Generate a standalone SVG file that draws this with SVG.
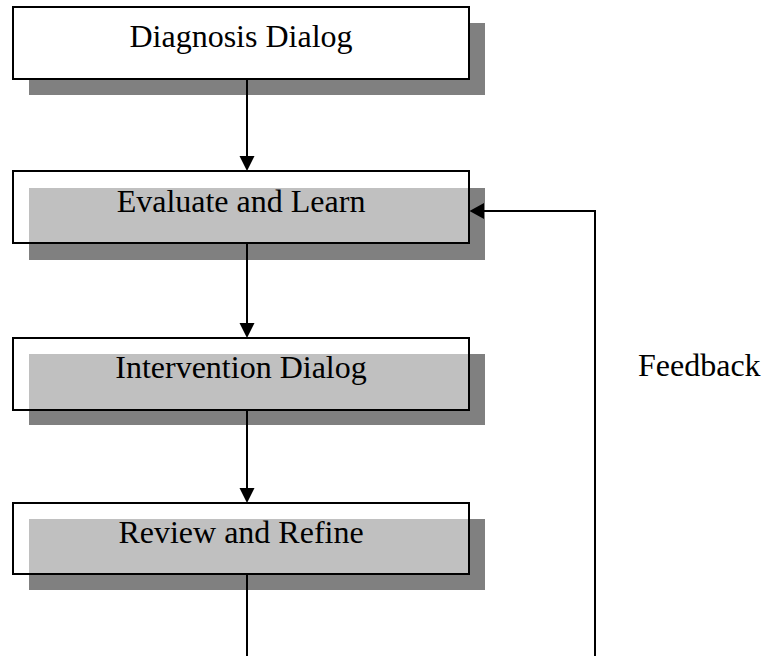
<svg xmlns="http://www.w3.org/2000/svg" width="764" height="656" viewBox="0 0 764 656">
  <style>
    .shadow { fill: #808080; }
    .inner { fill: #C0C0C0; }
    .frame { fill: none; stroke: #000; stroke-width: 2; }
    .frame-white { fill: #fff; stroke: #000; stroke-width: 2; }
    .label { font-family: "Liberation Serif", "Times New Roman", serif; font-size: 32px; fill: #000; }
    .mid { text-anchor: middle; }
    .wire { fill: none; stroke: #000; stroke-width: 2; }
    .head { fill: #000; }
  </style>
  <rect width="764" height="656" fill="#fff"/>

  <g id="node-diagnosis">
    <rect class="shadow" x="29" y="23" width="456" height="72"/>
    <rect class="frame-white" x="13" y="7" width="456" height="72"/>
    <text class="label mid" x="241" y="47">Diagnosis Dialog</text>
  </g>

  <g id="node-evaluate">
    <rect class="shadow" x="29" y="188" width="456" height="72"/>
    <rect class="inner" x="29" y="188" width="440" height="55"/>
    <rect class="frame" x="13" y="171" width="456" height="72"/>
    <text class="label mid" x="241" y="212">Evaluate and Learn</text>
  </g>

  <g id="node-intervention">
    <rect class="shadow" x="29" y="354" width="456" height="71"/>
    <rect class="inner" x="29" y="354" width="440" height="56"/>
    <rect class="frame" x="13" y="338" width="456" height="72"/>
    <text class="label mid" x="241" y="378">Intervention Dialog</text>
  </g>

  <g id="node-review">
    <rect class="shadow" x="29" y="519" width="456" height="71"/>
    <rect class="inner" x="29" y="519" width="440" height="55"/>
    <rect class="frame" x="13" y="503" width="456" height="71"/>
    <text class="label mid" x="241" y="543">Review and Refine</text>
  </g>

  <g id="label-feedback">
    <text class="label" x="638" y="376">Feedback</text>
  </g>

  <g id="connectors">
    <line class="wire" x1="247" y1="79" x2="247" y2="158"/>
    <polygon class="head" points="239.5,156 254.5,156 247,171"/>

    <line class="wire" x1="247" y1="243" x2="247" y2="325"/>
    <polygon class="head" points="239.5,323 254.5,323 247,338"/>

    <line class="wire" x1="247" y1="410" x2="247" y2="490"/>
    <polygon class="head" points="239.5,488 254.5,488 247,503"/>

    <line class="wire" x1="247" y1="574" x2="247" y2="656"/>

    <polyline class="wire" points="595,656 595,211 482,211"/>
    <polygon class="head" points="484,203 484,219 469.5,211"/>
  </g>
</svg>
